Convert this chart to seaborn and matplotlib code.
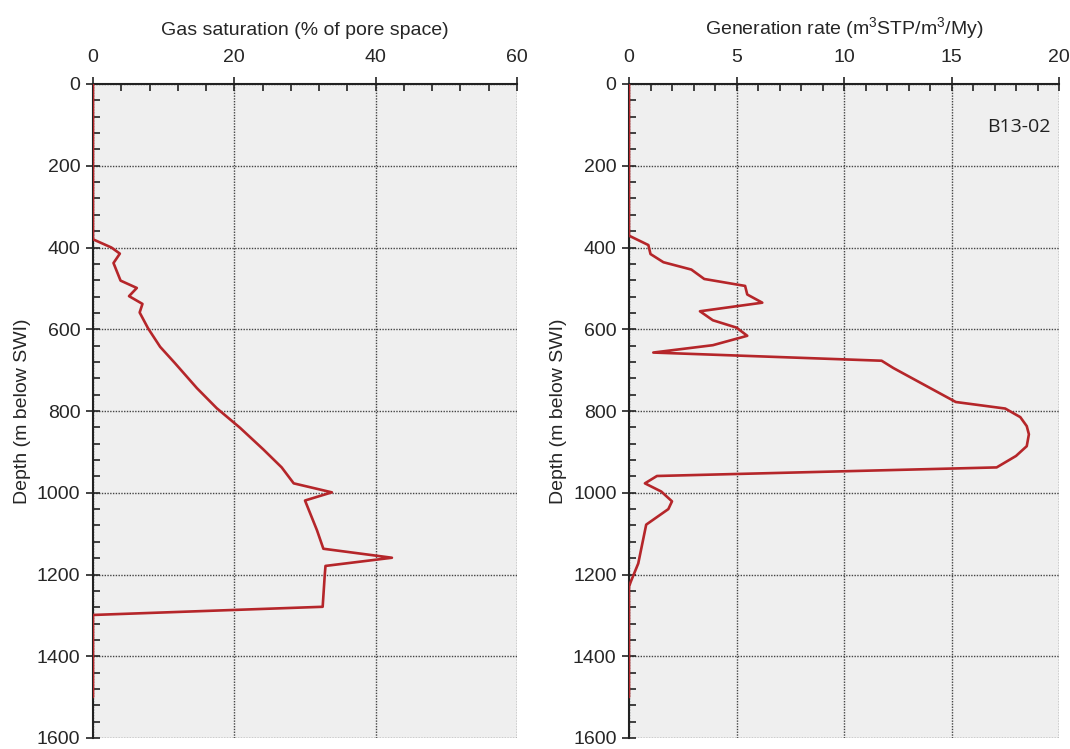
import matplotlib
matplotlib.use("Agg")
import matplotlib.pyplot as plt
import seaborn as sns
import pandas as pd
from matplotlib.ticker import MultipleLocator

# ---- data ----
depth_sat = [0, 380, 400, 415, 438, 481, 499, 519, 538, 559, 598, 643, 683, 744, 793,
             841, 894, 938, 977, 999, 1019, 1092, 1137, 1159, 1179, 1200, 1279, 1299, 1500]
gas_saturation = [0, 0, 2.6, 3.8, 2.9, 3.9, 6.2, 5.1, 7.0, 6.6, 7.8, 9.5, 11.6, 14.7, 17.5,
                  20.8, 24.1, 26.7, 28.4, 33.8, 30.0, 31.7, 32.6, 42.3, 32.9, 32.8, 32.5, 0, 0]

depth_gen = [0, 371, 394, 416, 436, 454, 477, 494, 515, 535, 556, 578, 596, 616, 639, 657,
             677, 695, 778, 794, 815, 837, 857, 886, 910, 938, 959, 977, 997, 1021, 1040,
             1078, 1173, 1218, 1230, 1500]
generation_rate = [0, 0, 0.9, 1.0, 1.6, 2.9, 3.5, 5.4, 5.5, 6.2, 3.3, 3.9, 5.0, 5.5, 3.9, 1.13,
                   11.75, 12.3, 15.2, 17.5, 18.2, 18.5, 18.6, 18.5, 18.0, 17.1, 1.3, 0.74, 1.5, 2.0, 1.83,
                   0.8, 0.43, 0.08, 0, 0]

sat_ticks = [0, 20, 40, 60]
gen_ticks = [0, 5, 10, 15, 20]
depth_ticks = [0, 200, 400, 600, 800, 1000, 1200, 1400, 1600]
xlabel_left = "Gas saturation (% of pore space)"
xlabel_right = "Generation rate (m$^3$STP/m$^3$/My)"
ylabel = "Depth (m below SWI)"
site_label = "B13-02"

sns.set_theme(style="white")
plt.rcParams['font.family'] = ['Liberation Sans', 'DejaVu Sans']
plt.rcParams['mathtext.fontset'] = 'custom'
plt.rcParams['mathtext.rm'] = 'Liberation Sans'

W, H = 1070, 749
fig = plt.figure(figsize=(W / 100, H / 100), dpi=100)

def frac(x0, x1, y0, y1):
    return [x0 / W, 1 - y1 / H, (x1 - x0) / W, (y1 - y0) / H]

axL = fig.add_axes(frac(93, 517, 84, 738))
axR = fig.add_axes(frac(629, 1059, 84, 738))

line_color = "#b5262a"
df_sat = pd.DataFrame({"depth": depth_sat, "val": gas_saturation})
df_gen = pd.DataFrame({"depth": depth_gen, "val": generation_rate})

sns.lineplot(data=df_sat, x="val", y="depth", sort=False, estimator=None,
             color=line_color, linewidth=1.9, ax=axL, zorder=7)
sns.lineplot(data=df_gen, x="val", y="depth", sort=False, estimator=None,
             color=line_color, linewidth=1.9, ax=axR, zorder=7)

def style(ax, xticks, xminor, xlabel):
    ax.set_facecolor("#efefef")
    ax.set_xlim(xticks[0], xticks[-1])
    ax.set_ylim(1600, 0)
    ax.set_xticks(xticks)
    ax.set_yticks(depth_ticks)
    ax.xaxis.set_minor_locator(MultipleLocator(xminor))
    ax.yaxis.set_minor_locator(MultipleLocator(40))
    ax.xaxis.tick_top()
    ax.xaxis.set_label_position("top")
    ax.set_xlabel(xlabel, fontsize=14, labelpad=10)
    ax.set_ylabel(ylabel, fontsize=14, labelpad=4)
    ax.tick_params(which="major", direction="inout", length=10, width=1.2,
                   labelsize=14, color="#222222", pad=4)
    ax.tick_params(axis="x", which="major", pad=8)
    ax.tick_params(which="minor", direction="in", length=5, width=1.2, color="#222222")
    ax.tick_params(axis="x", which="both", top=True, bottom=False)
    ax.tick_params(axis="y", which="both", left=True, right=False)
    ax.grid(True, which="major", color="#444444", linestyle=(0, (1, 1)), linewidth=1.0)
    for s in ("right", "bottom"):
        ax.spines[s].set_visible(False)
    for s in ("left", "top"):
        ax.spines[s].set_color("#222222")
        ax.spines[s].set_linewidth(1.5)
        ax.spines[s].set_zorder(6)
    ax.set_axisbelow(True)

style(axL, sat_ticks, 4, xlabel_left)
style(axR, gen_ticks, 1, xlabel_right)

axR.text(0.98, 0.935, site_label, transform=axR.transAxes, ha="right", va="center",
         fontsize=14, family=["Open Sans", "DejaVu Sans"], color="#222222")

fig.savefig("out.png", dpi=100)
